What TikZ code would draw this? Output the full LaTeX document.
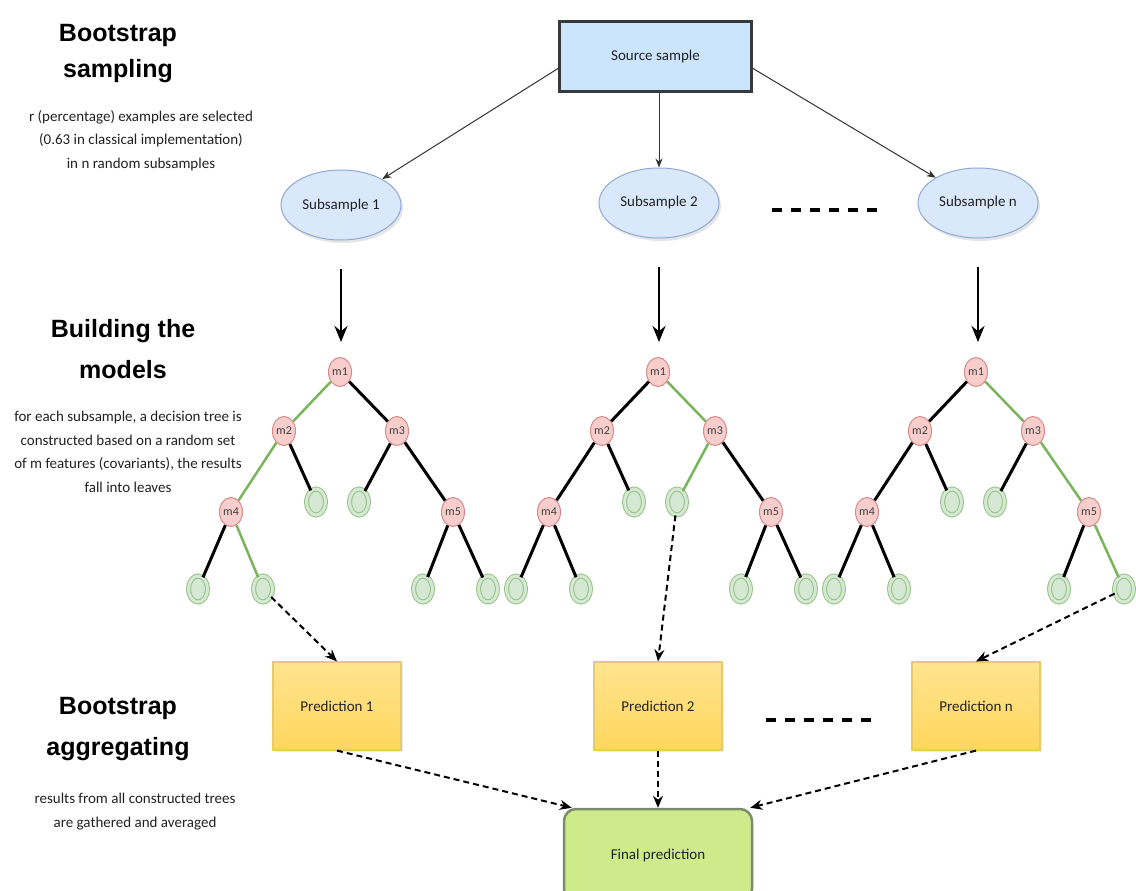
\documentclass[tikz,border=0pt]{standalone}
\usepackage{fontspec}
\setmainfont{Carlito}
\newfontfamily\headfont{Liberation Sans}
\usetikzlibrary{arrows.meta,shapes.geometric,shadows}
\definecolor{srcfill}{HTML}{CCE5FF}
\definecolor{srcline}{HTML}{36393D}
\definecolor{subfill}{HTML}{DAE8FC}
\definecolor{subline}{HTML}{8EA9D6}
\definecolor{redfill}{HTML}{F8CECC}
\definecolor{redline}{HTML}{D88A88}
\definecolor{leaffill}{HTML}{D5E8D4}
\definecolor{leafline}{HTML}{97C283}
\definecolor{pathgreen}{HTML}{7AB55C}
\definecolor{predtop}{HTML}{FFE48F}
\definecolor{predbot}{HTML}{FFD75E}
\definecolor{predline}{HTML}{E6CA70}
\definecolor{finfill}{HTML}{CDEB8B}
\definecolor{finline}{HTML}{7D8C6C}
\definecolor{txt}{HTML}{222222}
\tikzset{
  head/.style={font=\headfont\bfseries\fontsize{25}{41}\selectfont, align=center, inner sep=0pt, anchor=north, text=black},
  note/.style={font=\fontsize{15}{23.5}\selectfont, align=center, inner sep=0pt, anchor=north, text=txt},
  lbl/.style={font=\fontsize{15}{17}\selectfont, text=txt},
  srcbox/.style={lbl, draw=srcline, line width=3pt, fill=srcfill, minimum width=192pt, minimum height=70pt, inner sep=0pt},
  subell/.style={lbl, ellipse, draw=subline, line width=1pt, fill=subfill, minimum width=120pt, minimum height=70pt, inner sep=0pt,
    drop shadow={shadow xshift=2pt, shadow yshift=-3pt, opacity=.2}},
  mnode/.style={ellipse, draw=redline, line width=1pt, fill=redfill, minimum width=23pt, minimum height=29pt, inner sep=0pt,
    font=\fontsize{12}{12}\selectfont, text=black!75},
  leaf/.style={ellipse, draw=leafline, line width=1pt, double=leaffill, double distance=3pt, fill=leaffill, minimum width=19pt, minimum height=26pt, inner sep=0pt},
  predbox/.style={lbl, draw=predline, line width=1.2pt, top color=predtop, bottom color=predbot, minimum width=128pt, minimum height=88pt, inner sep=0pt,
    drop shadow={shadow xshift=2pt, shadow yshift=-2pt, opacity=.15}},
  finbox/.style={lbl, draw=finline, line width=2.5pt, fill=finfill, rounded corners=12pt, minimum width=188pt, minimum height=92pt, inner sep=0pt},
  tedge/.style={line width=3pt, black},
  gedge/.style={line width=2.5pt, pathgreen},
  thin/.style={line width=1pt, black!80, -{Stealth[length=9pt,width=7pt]}},
  bigarrow/.style={line width=2.7pt, black, -{Stealth[length=16pt,width=13pt]}},
  darrow/.style={line width=2pt, black, dash pattern=on 6pt off 4pt, -{Stealth[length=12pt,width=10pt]}},
  sepline/.style={line width=4pt, black, dash pattern=on 10pt off 9pt}
}
\begin{document}
\begin{tikzpicture}[x=1pt,y=-1pt]
\useasboundingbox (0,0) rectangle (1136,891);
\fill[white] (0,0) rectangle (1136,891);

% left texts
\node[head] (h1) at (118,24) {Bootstrap\\[-5pt]sampling};
\node[note] (n1) at (141,110) {r (percentage) examples are selected\\(0.63 in classical implementation)\\in n random subsamples};
\node[head] (h2) at (123,319) {Building the\\models};
\node[note] (n2) at (128,411) {for each subsample, a decision tree is\\constructed based on a random set\\of m features (covariants), the results\\fall into leaves};
\node[head] (h3) at (118,697) {Bootstrap\\aggregating};
\node[note] (n3) at (135,793) {results from all constructed trees\\are gathered and averaged};

% source and subsamples
\node[srcbox] (src) at (655.5,56.5) {Source sample};
\node[subell] (s1) at (341,205) {Subsample 1};
\node[subell] (s2) at (659,203) {Subsample 2};
\node[subell] (s3) at (978,203) {Subsample n};

\draw[thin] ([yshift=-12pt]src.west) -- (s1);
\draw[thin] (s2 |- src.south) -- (s2);
\draw[thin] ([yshift=-12pt]src.east) -- (s3);

\coordinate (d1a) at (772,210);
\coordinate (d1b) at (877,210);
\draw[sepline] (d1a) -- (d1b);

% trees
\foreach \t/\X in {1/340,2/658,3/976}{
  \node[mnode] (T\t-m1) at (\X,372) {m1};
  \node[mnode] (T\t-m2) at ({\X-56},431) {m2};
  \node[mnode] (T\t-m3) at ({\X+57},431) {m3};
  \node[mnode] (T\t-m4) at ({\X-109},512) {m4};
  \node[mnode] (T\t-m5) at ({\X+113},512) {m5};
  \node[leaf] (T\t-la) at ({\X-24},502) {};
  \node[leaf] (T\t-lb) at ({\X+19},502) {};
  \node[leaf] (T\t-l1) at ({\X-142},589) {};
  \node[leaf] (T\t-l2) at ({\X-77},589) {};
  \node[leaf] (T\t-l3) at ({\X+83},589) {};
  \node[leaf] (T\t-l4) at ({\X+148},589) {};
}
\foreach \a/\b/\s in {m1/m2/gedge, m1/m3/tedge, m2/m4/gedge, m2/la/tedge, m3/lb/tedge, m3/m5/tedge, m4/l1/tedge, m4/l2/gedge, m5/l3/tedge, m5/l4/tedge}
  \draw[\s] (T1-\a) -- (T1-\b);
\foreach \a/\b/\s in {m1/m2/tedge, m1/m3/gedge, m2/m4/tedge, m2/la/tedge, m3/lb/gedge, m3/m5/tedge, m4/l1/tedge, m4/l2/tedge, m5/l3/tedge, m5/l4/tedge}
  \draw[\s] (T2-\a) -- (T2-\b);
\foreach \a/\b/\s in {m1/m2/tedge, m1/m3/gedge, m2/m4/tedge, m2/la/tedge, m3/lb/tedge, m3/m5/gedge, m4/l1/tedge, m4/l2/tedge, m5/l3/tedge, m5/l4/gedge}
  \draw[\s] (T3-\a) -- (T3-\b);

% subsample -> tree
\draw[bigarrow, shorten <=28pt, shorten >=15pt] (s1) -- (s1 |- T1-m1.north);
\draw[bigarrow, shorten <=28pt, shorten >=15pt] (s2) -- (s2 |- T2-m1.north);
\draw[bigarrow, shorten <=28pt, shorten >=15pt] (s3) -- (s3 |- T3-m1.north);

% predictions
\node[predbox] (p1) at (337,706) {Prediction 1};
\node[predbox] (p2) at (658,706) {Prediction 2};
\node[predbox] (p3) at (976,706) {Prediction n};

\draw[darrow] (T1-l2) -- (p1.north);
\draw[darrow] (T2-lb) -- (p2.north);
\draw[darrow] (T3-l4) -- (p3.north);

\coordinate (d2a) at (766,720);
\coordinate (d2b) at (871,720);
\draw[sepline] (d2a) -- (d2b);

% final
\node[finbox] (fin) at (658,855) {Final prediction};
\draw[darrow] (p1.south) -- ([xshift=9pt]fin.north west);
\draw[darrow] (p2.south) -- (fin.north);
\draw[darrow] (p3.south) -- ([xshift=-3pt]fin.north east);
\end{tikzpicture}
\end{document}
